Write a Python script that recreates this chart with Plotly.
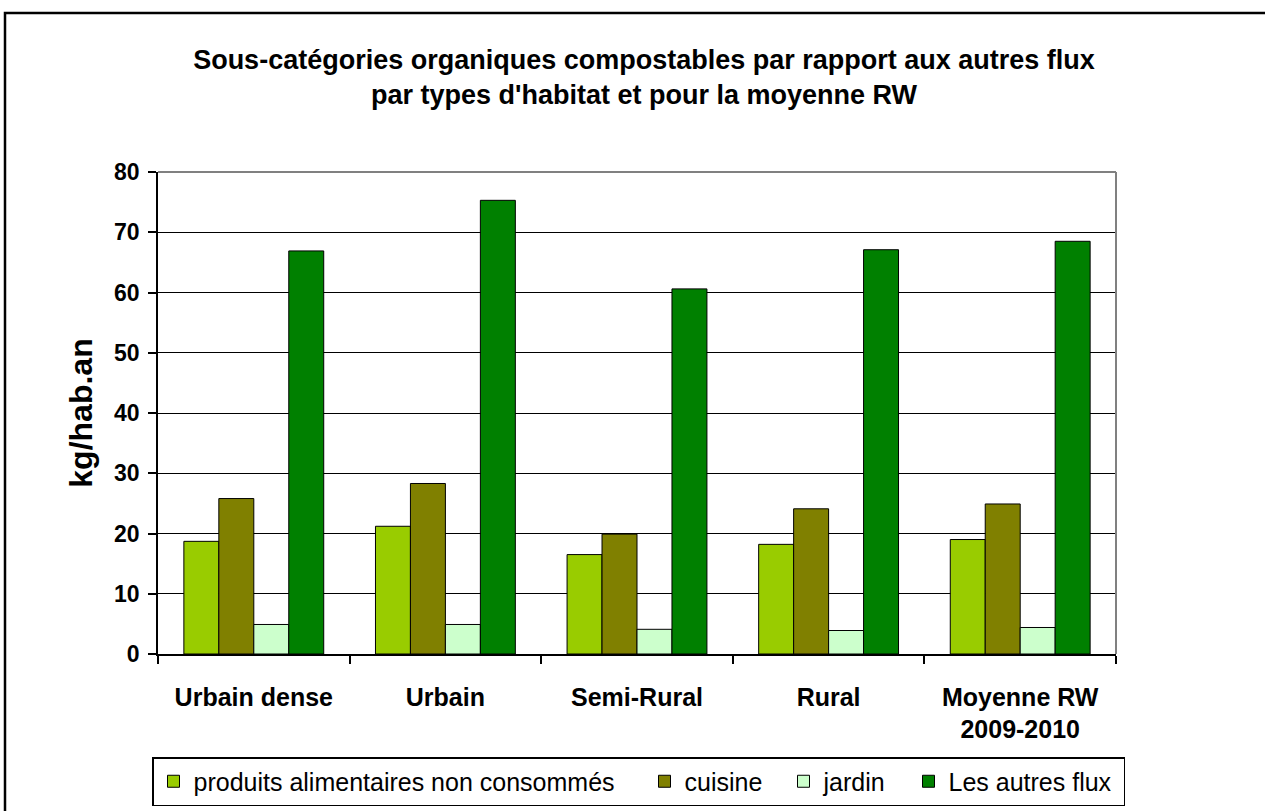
import plotly.graph_objects as go

# Habitat types (x categories)
categories = ["Urbain dense", "Urbain", "Semi-Rural", "Rural", "Moyenne RW<br>2009-2010"]

# kg/hab.an per waste stream
produits_alimentaires = [18.7, 21.2, 16.5, 18.2, 19.0]
cuisine = [25.8, 28.3, 19.9, 24.1, 24.9]
jardin = [4.9, 4.9, 4.1, 3.9, 4.4]
autres_flux = [66.9, 75.3, 60.6, 67.1, 68.5]

series_names = ["produits alimentaires non consommés", "cuisine", "jardin", "Les autres flux"]
series_values = [produits_alimentaires, cuisine, jardin, autres_flux]
series_colors = ["#99CC00", "#808000", "#CCFFCC", "#008000"]
legend_widths = [446, 94, 80, 170]

y_ticks = [0, 10, 20, 30, 40, 50, 60, 70, 80]

FONT = "Liberation Sans, Arial, sans-serif"

fig = go.Figure()
for name, vals, col, lw in zip(series_names, series_values, series_colors, legend_widths):
    fig.add_trace(go.Bar(
        x=categories, y=vals, name=name,
        marker=dict(color=col, line=dict(color="black", width=1)),
        legendwidth=lw,
    ))

W, H = 1265, 811
L, R, T, B = 158, 149, 172, 157
pw, ph = W - L - R, H - T - B

def px_x(p):
    return (p - L) / pw

def px_y(p):
    return (H - B - p) / ph

fig.update_layout(
    width=W, height=H,
    margin=dict(l=L, r=R, t=T, b=B, autoexpand=False),
    paper_bgcolor="white", plot_bgcolor="white",
    font=dict(family=FONT, color="black"),
    barmode="group", bargap=0.27, bargroupgap=0,
    title=dict(
        text="Sous-catégories organiques compostables par rapport aux autres flux<br>par types d'habitat et pour la moyenne RW",
        font=dict(size=27, family=FONT, weight="bold", color="black"),
        x=644 / W, xanchor="center", xref="container",
        y=1 - 69 / H, yanchor="top", yref="container",
    ),
    xaxis=dict(
        type="category",
        showline=True, linecolor="black", linewidth=1.5,
        ticks="outside", tickson="boundaries", ticklen=8, tickcolor="black", tickwidth=1.5,
        showgrid=False,
        tickfont=dict(size=25, family=FONT, weight="bold"),
        ticklabelstandoff=20,
    ),
    yaxis=dict(
        range=[0, 80], tickvals=y_ticks,
        showline=True, linecolor="black", linewidth=1.5,
        ticks="outside", ticklen=8, tickcolor="black", tickwidth=1.5,
        showgrid=True, gridcolor="black", gridwidth=1.4,
        zeroline=False,
        tickfont=dict(size=23, family=FONT, weight="bold"),
        ticklabelstandoff=4,
        title=dict(text="kg/hab.an", font=dict(size=32, family=FONT, weight="bold"), standoff=12),
    ),
    legend=dict(
        orientation="h",
        x=px_x(152), xanchor="left",
        y=px_y(757), yanchor="top",
        font=dict(size=25, family=FONT),
        bordercolor="black", borderwidth=1.5,
        bgcolor="white",
        traceorder="normal",
    ),
    shapes=[
        # grey top and right border of the plotting area
        dict(type="line", xref="paper", yref="paper", x0=0, x1=1, y0=1, y1=1,
             line=dict(color="#808080", width=2), layer="above"),
        dict(type="line", xref="paper", yref="paper", x0=1, x1=1, y0=0, y1=1,
             line=dict(color="#808080", width=2), layer="above"),
        # outer chart frame
        dict(type="rect", xref="paper", yref="paper",
             x0=px_x(5), x1=px_x(1320), y0=px_y(13), y1=px_y(860),
             line=dict(color="black", width=2.5), fillcolor="rgba(0,0,0,0)", layer="below"),
    ],
)

fig.write_html("out.html")
